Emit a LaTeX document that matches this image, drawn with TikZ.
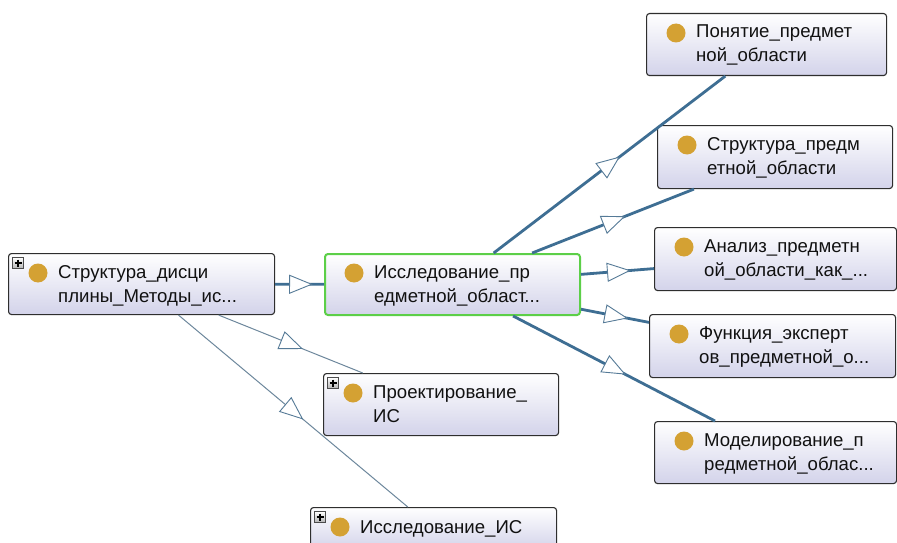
\documentclass[tikz,border=0pt]{standalone}
\usepackage{fontspec}
\setmainfont{Liberation Sans}
\usetikzlibrary{calc,decorations.markings}
\definecolor{boxbot}{HTML}{D3D3EA}
\definecolor{boxborder}{HTML}{2E2E2E}
\definecolor{gold}{HTML}{D4A133}
\definecolor{selgreen}{HTML}{5CCF48}
\definecolor{edgeblue}{HTML}{3E6E93}
\definecolor{thinblue}{HTML}{6D879C}
\definecolor{triblue}{HTML}{557A97}
\definecolor{txt}{HTML}{111111}
\tikzset{
  box/.style={draw=boxborder, line width=1.1pt, rounded corners=3pt, top color=white, bottom color=boxbot, inner sep=0pt, shape=rectangle},
  sel/.style={draw=selgreen, line width=2pt},
  dot/.style={circle, fill=gold, minimum size=19pt, inner sep=0pt},
  lbl/.style={anchor=base west, inner sep=0pt, font=\fontsize{18.6}{22}\selectfont, text=txt},
  plusbox/.style={draw=black!70, line width=0.6pt, top color=white, bottom color=black!30, minimum size=11pt, inner sep=0pt},
  tri/.style={draw=triblue, fill=white, line width=0.9pt, line join=miter},
  midtri/.style={postaction={decorate}, decoration={markings, mark=at position 0.5 with {\draw[tri] (-10pt,-9pt) -- (12pt,0pt) -- (-10pt,9pt) -- cycle;}}},
  thk/.style={draw=edgeblue, line width=2.8pt, midtri},
  thn/.style={draw=thinblue, line width=1pt, midtri}
}
\newcommand\obox[6]{%
  \node[box,#6,minimum width=#4pt,minimum height=#5pt,anchor=north west] (#1) at (#2,#3) {};
  \node[dot] (#1-d) at ($(#1.north west)+(30,20)$) {};
}
\newcommand\otext[3]{%
  \node[lbl] (#1-a) at ($(#1.north west)+(50,25)$) {#2};
  \node[lbl] (#1-b) at ($(#1.north west)+(50,49)$) {#3};
}
\newcommand\expandicon[1]{%
  \node[plusbox] (#1-p) at ($(#1.north west)+(10,10)$) {};
  \draw[line width=1.1pt] ($(#1-p.center)+(-3.5,0)$) -- ($(#1-p.center)+(3.5,0)$);
  \draw[line width=1.1pt] ($(#1-p.center)+(0,-3.5)$) -- ($(#1-p.center)+(0,3.5)$);
}
\begin{document}
\begin{tikzpicture}[x=1pt,y=-1pt]
\useasboundingbox (0,0) rectangle (897,543);
\clip (0,0) rectangle (897,543);
\fill[white] (0,0) rectangle (897,543);

% boxes
\obox{L}{8}{253}{266}{61}{}
\otext{L}{Структура\_дисци}{плины\_Методы\_ис...}
\expandicon{L}

\obox{C}{324}{253}{255}{61}{sel}
\otext{C}{Исследование\_пр}{едметной\_област...}

\obox{P1}{646}{13}{240}{62}{}
\otext{P1}{Понятие\_предмет}{ной\_области}

\obox{P2}{657}{125}{235}{63}{}
\otext{P2}{Структура\_предм}{етной\_области}

\obox{P3}{654}{227}{242}{63}{}
\otext{P3}{Анализ\_предметн}{ой\_области\_как\_...}

\obox{P4}{649}{314}{246}{63}{}
\otext{P4}{Функция\_эксперт}{ов\_предметной\_о...}

\obox{P5}{654}{421}{242}{62}{}
\otext{P5}{Моделирование\_п}{редметной\_облас...}

\obox{PR}{323}{373}{235}{62}{}
\otext{PR}{Проектирование\_}{ИС}
\expandicon{PR}

\obox{IS}{310}{507}{246}{42}{}
\node[lbl] (IS-a) at ($(IS.north west)+(50,26)$) {Исследование\_ИС};
\expandicon{IS}

% connectors
\draw[thk] (L) -- (C);
\draw[thn] (L) -- (PR);
\draw[thn] (L) -- (IS);
\draw[thk] (C) -- (P1);
\draw[thk] (C) -- (P2);
\draw[thk] (C) -- (P3);
\draw[thk] (C) -- (P4);
\draw[thk] (C) -- (P5);
\end{tikzpicture}
\end{document}
